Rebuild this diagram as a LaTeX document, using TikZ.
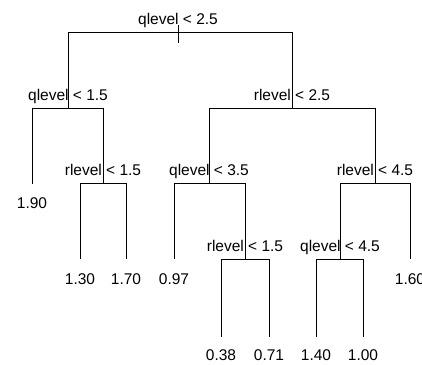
\documentclass[tikz,border=0pt]{standalone}
\usepackage{fontspec}
\setmainfont{Liberation Sans}
\begin{document}
\begin{tikzpicture}[x=1pt,y=1pt,
  edge/.style={line width=1pt,black},
  splitlab/.style={anchor=base,inner sep=0pt,font=\fontsize{15.5}{18}\selectfont},
  leaflab/.style={anchor=base,inner sep=0pt,font=\fontsize{15.5}{18}\selectfont}]
\useasboundingbox (0,0) rectangle (422,-364);
% split points
\coordinate (R) at (178,-32);
\coordinate (A) at (68,-108);
\coordinate (B) at (292,-108);
\coordinate (C) at (103,-183);
\coordinate (D) at (209,-183);
\coordinate (E) at (375,-183);
\coordinate (F) at (245,-259);
\coordinate (G) at (340,-259);
% leaves
\coordinate (L1) at (32,-184);
\coordinate (L2) at (80,-259);
\coordinate (L3) at (126,-259);
\coordinate (L4) at (174,-259);
\coordinate (L5) at (410,-259);
\coordinate (L6) at (221,-337);
\coordinate (L7) at (269,-337);
\coordinate (L8) at (316,-337);
\coordinate (L9) at (363,-337);
\coordinate (Rt) at (178,-25);
\coordinate (Rb) at (178,-43);
% connectors
\draw[edge] (Rt) -- (Rb);
\draw[edge] (R) -| (A);
\draw[edge] (R) -| (B);
\draw[edge] (A) -| (L1);
\draw[edge] (A) -| (C);
\draw[edge] (B) -| (D);
\draw[edge] (B) -| (E);
\draw[edge] (C) -| (L2);
\draw[edge] (C) -| (L3);
\draw[edge] (D) -| (L4);
\draw[edge] (D) -| (F);
\draw[edge] (E) -| (G);
\draw[edge] (E) -| (L5);
\draw[edge] (F) -| (L6);
\draw[edge] (F) -| (L7);
\draw[edge] (G) -| (L8);
\draw[edge] (G) -| (L9);
% split labels
\node[splitlab] (tR) at ([yshift=8]R) {qlevel < 2.5};
\node[splitlab] (tA) at ([yshift=8]A) {qlevel < 1.5};
\node[splitlab] (tB) at ([yshift=8]B) {rlevel < 2.5};
\node[splitlab] (tC) at ([yshift=8]C) {rlevel < 1.5};
\node[splitlab] (tD) at ([yshift=8]D) {qlevel < 3.5};
\node[splitlab] (tE) at ([yshift=8]E) {rlevel < 4.5};
\node[splitlab] (tF) at ([yshift=8]F) {rlevel < 1.5};
\node[splitlab] (tG) at ([yshift=8]G) {qlevel < 4.5};
% leaf labels
\node[leaflab] (t1) at ([yshift=-24]L1) {1.90};
\node[leaflab] (t2) at ([yshift=-25]L2) {1.30};
\node[leaflab] (t3) at ([yshift=-25]L3) {1.70};
\node[leaflab] (t4) at ([yshift=-25]L4) {0.97};
\node[leaflab] (t5) at ([yshift=-25]L5) {1.60};
\node[leaflab] (t6) at ([yshift=-23]L6) {0.38};
\node[leaflab] (t7) at ([yshift=-23]L7) {0.71};
\node[leaflab] (t8) at ([yshift=-23]L8) {1.40};
\node[leaflab] (t9) at ([yshift=-23]L9) {1.00};
\end{tikzpicture}
\end{document}
